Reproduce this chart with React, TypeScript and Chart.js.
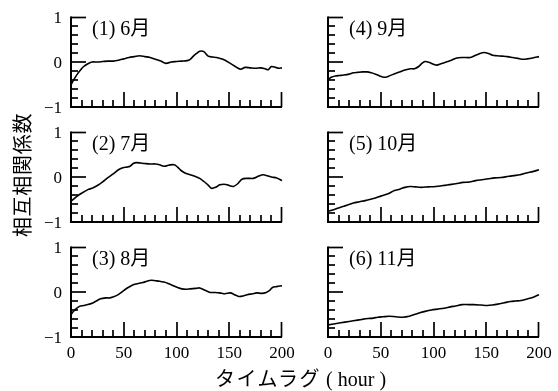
import React, { useEffect, useRef } from "react";
import { Chart, registerables } from "chart.js";

Chart.register(...registerables);

// ---- data (lag in hours, cross-correlation coefficient) ----
const junLag = [0, 2, 4, 6, 9, 12, 16, 20, 25, 30, 35, 40, 45, 50, 55, 60, 65, 70, 75, 80, 85, 90, 95, 100, 105, 110, 113, 116, 119, 122, 126, 130, 134, 138, 144, 151, 157, 161, 165, 170, 175, 180, 184, 187, 190, 194, 197, 200];
const junCorr = [-0.51, -0.42, -0.34, -0.27, -0.18, -0.1, -0.04, 0.0, 0.0, 0.01, 0.02, 0.02, 0.04, 0.07, 0.1, 0.12, 0.14, 0.12, 0.1, 0.06, 0.02, -0.03, 0.0, 0.01, 0.02, 0.03, 0.06, 0.13, 0.19, 0.24, 0.23, 0.13, 0.11, 0.1, 0.06, -0.03, -0.12, -0.16, -0.12, -0.13, -0.14, -0.13, -0.15, -0.17, -0.1, -0.12, -0.14, -0.13];

const julLag = [0, 5, 10, 16, 20, 25, 30, 34, 40, 45, 50, 53, 56, 59, 62, 66, 70, 75, 80, 84, 88, 91, 94, 98, 101, 104, 108, 113, 118, 122, 126, 130, 133, 137, 141, 145, 148, 151, 154, 158, 162, 167, 173, 178, 182, 186, 190, 195, 200];
const julCorr = [-0.54, -0.44, -0.36, -0.28, -0.25, -0.19, -0.11, -0.03, 0.07, 0.16, 0.21, 0.22, 0.24, 0.3, 0.32, 0.31, 0.3, 0.29, 0.29, 0.27, 0.24, 0.25, 0.27, 0.27, 0.22, 0.15, 0.09, 0.05, 0.01, -0.03, -0.1, -0.18, -0.25, -0.23, -0.17, -0.16, -0.17, -0.2, -0.21, -0.15, -0.05, -0.03, -0.03, 0.02, 0.05, 0.03, 0.0, -0.02, -0.08];

const augLag = [0, 2, 4, 8, 12, 16, 20, 24, 28, 33, 37, 43, 47, 51, 55, 59, 64, 68, 72, 76, 80, 84, 88, 92, 97, 101, 105, 109, 113, 118, 122, 127, 132, 137, 141, 146, 151, 155, 159, 163, 167, 172, 176, 181, 185, 188, 191, 195, 200];
const augCorr = [-0.5, -0.44, -0.39, -0.32, -0.3, -0.28, -0.25, -0.2, -0.15, -0.13, -0.13, -0.08, -0.02, 0.05, 0.11, 0.16, 0.19, 0.21, 0.24, 0.26, 0.25, 0.24, 0.22, 0.19, 0.14, 0.1, 0.07, 0.06, 0.07, 0.08, 0.09, 0.04, -0.01, -0.01, -0.02, -0.04, -0.02, -0.06, -0.1, -0.09, -0.06, -0.04, -0.02, -0.03, -0.01, 0.03, 0.1, 0.12, 0.14];

const sepLag = [0, 3, 7, 11, 15, 20, 24, 28, 33, 37, 41, 45, 49, 53, 57, 62, 67, 73, 78, 82, 86, 89, 92, 96, 100, 103, 107, 112, 117, 122, 128, 135, 140, 144, 148, 152, 156, 160, 165, 170, 175, 180, 185, 189, 194, 200];
const sepCorr = [-0.4, -0.34, -0.31, -0.3, -0.29, -0.27, -0.24, -0.23, -0.22, -0.22, -0.24, -0.27, -0.31, -0.34, -0.32, -0.27, -0.23, -0.18, -0.15, -0.15, -0.1, -0.03, 0.01, -0.01, -0.05, -0.07, -0.04, 0.0, 0.04, 0.09, 0.1, 0.1, 0.15, 0.19, 0.21, 0.19, 0.15, 0.14, 0.13, 0.12, 0.1, 0.08, 0.06, 0.07, 0.09, 0.12];

const octLag = [0, 6, 12, 18, 24, 30, 36, 43, 48, 52, 57, 63, 68, 73, 78, 83, 88, 95, 102, 109, 115, 121, 128, 134, 140, 146, 152, 158, 164, 170, 176, 182, 188, 194, 200];
const octCorr = [-0.76, -0.72, -0.67, -0.63, -0.58, -0.55, -0.52, -0.48, -0.44, -0.41, -0.37, -0.3, -0.27, -0.23, -0.21, -0.22, -0.23, -0.22, -0.21, -0.19, -0.17, -0.15, -0.12, -0.11, -0.08, -0.06, -0.04, -0.02, -0.01, 0.01, 0.03, 0.05, 0.09, 0.12, 0.16];

const novLag = [0, 8, 16, 24, 32, 38, 43, 47, 52, 58, 64, 71, 77, 82, 87, 92, 98, 104, 110, 116, 121, 127, 133, 138, 145, 151, 156, 161, 167, 173, 178, 183, 188, 194, 200];
const novCorr = [-0.73, -0.7, -0.67, -0.64, -0.61, -0.59, -0.58, -0.56, -0.55, -0.54, -0.55, -0.56, -0.54, -0.5, -0.46, -0.43, -0.4, -0.38, -0.36, -0.33, -0.31, -0.28, -0.28, -0.28, -0.29, -0.3, -0.29, -0.27, -0.24, -0.21, -0.2, -0.19, -0.16, -0.12, -0.06];

const panelTitles = ["(1) 6月", "(2) 7月", "(3) 8月", "(4) 9月", "(5) 10月", "(6) 11月"];
const xTickLabels = [0, 50, 100, 150, 200];
const yTickValues = [1, 0, -1];
const yTickLabels = ["1", "0", "\u22121"];
const xMin = 0;
const xMax = 200;
const yMin = -1;
const yMax = 1;
const xMinorStep = 10;
const xMajorStep = 50;
const yMinorStep = 0.2;
const yTitle = "相互相関係数";
const xTitleJa = "タイムラグ";
const xTitleUnit = "( hour )";

const SERIF = "'Liberation Serif', 'Times New Roman', 'Noto Sans CJK JP', serif";
const CJK = "'Noto Sans CJK JP', 'Noto Sans CJK SC', sans-serif";

type PanelProps = {
  lag: number[];
  corr: number[];
  title: string;
  left: number;
  top: number;
  showX: boolean;
  showY: boolean;
};

const PAD_L = 31;
const PAD_R = 20;
const PAD_T = 17;
const PLOT_W = 211;
const PLOT_H = 90;
const PAD_B = 30;
const CW = PAD_L + PLOT_W + PAD_R;
const CH = PAD_T + PLOT_H + PAD_B;

function Panel({ lag, corr, title, left, top, showX, showY }: PanelProps) {
  const ref = useRef<HTMLCanvasElement | null>(null);
  useEffect(() => {
    const canvas = ref.current;
    if (!canvas) return;
    const axesPlugin = {
      id: "axesInside",
      afterDatasetsDraw(chart: any) {
        const { ctx, chartArea: a, scales } = chart;
        const x = scales.x;
        const y = scales.y;
        ctx.save();
        ctx.strokeStyle = "#000";
        ctx.fillStyle = "#000";
        // ticks pointing inward
        ctx.lineWidth = 1.7;
        const nx = Math.round((xMax - xMin) / xMinorStep);
        for (let i = 0; i <= nx; i++) {
          const v = xMin + i * xMinorStep;
          const px = Math.round(x.getPixelForValue(v)) + (i === nx ? -0.5 : 0);
          const major = Math.abs(v % xMajorStep) < 1e-9;
          const len = major ? 15 : 7;
          ctx.beginPath();
          ctx.moveTo(px, a.bottom);
          ctx.lineTo(px, a.bottom - len);
          ctx.stroke();
        }
        const ny = Math.round((yMax - yMin) / yMinorStep);
        for (let i = 0; i <= ny; i++) {
          const v = yMin + i * yMinorStep;
          const py = Math.round(y.getPixelForValue(v)) + (i === ny ? 0.5 : 0);
          const major = i % 5 === 0;
          const len = major ? 15 : 7;
          ctx.beginPath();
          ctx.moveTo(a.left, py);
          ctx.lineTo(a.left + len, py);
          ctx.stroke();
        }
        // axis lines
        ctx.lineWidth = 2;
        ctx.beginPath();
        ctx.moveTo(a.left, a.top - 0.5);
        ctx.lineTo(a.left, a.bottom + 1);
        ctx.moveTo(a.left - 1, a.bottom);
        ctx.lineTo(a.right, a.bottom);
        ctx.stroke();
        // title
        ctx.font = `20px ${SERIF}`;
        ctx.textAlign = "left";
        ctx.textBaseline = "alphabetic";
        ctx.fillText(title, a.left + 21, a.top + 18);
        // tick labels
        ctx.font = `17px ${SERIF}`;
        if (showX) {
          ctx.textAlign = "center";
          xTickLabels.forEach((v) => {
            ctx.fillText(String(v), x.getPixelForValue(v), a.bottom + 21);
          });
        }
        if (showY) {
          ctx.textAlign = "right";
          yTickValues.forEach((v, i) => {
            ctx.fillText(yTickLabels[i], a.left - 9, y.getPixelForValue(v) + 6);
          });
        }
        ctx.restore();
      },
    };
    const chart = new Chart(canvas, {
      type: "line",
      data: {
        datasets: [
          {
            data: lag.map((t, i) => ({ x: t, y: corr[i] })),
            borderColor: "#000",
            borderWidth: 1.6,
            pointRadius: 0,
            tension: 0.3,
            fill: false,
            clip: false as any,
          },
        ],
      },
      options: {
        responsive: false,
        animation: false,
        devicePixelRatio: 1,
        layout: { padding: { left: PAD_L, right: PAD_R, top: PAD_T, bottom: PAD_B } },
        plugins: { legend: { display: false }, tooltip: { enabled: false } },
        scales: {
          x: { type: "linear", min: xMin, max: xMax, display: false },
          y: { type: "linear", min: yMin, max: yMax, display: false },
        },
      },
      plugins: [axesPlugin],
    });
    return () => chart.destroy();
  }, [lag, corr, title, showX, showY]);
  return (
    <canvas
      ref={ref}
      width={CW}
      height={CH}
      style={{ position: "absolute", left, top, width: CW, height: CH }}
    />
  );
}

export default function App() {
  const series = [
    { lag: junLag, corr: junCorr },
    { lag: julLag, corr: julCorr },
    { lag: augLag, corr: augCorr },
    { lag: sepLag, corr: sepCorr },
    { lag: octLag, corr: octCorr },
    { lag: novLag, corr: novCorr },
  ];
  const colLeft = [71 - PAD_L, 328 - PAD_L];
  const rowTop = [0, 115, 230];
  return (
    <div style={{ position: "absolute", left: 0, top: 0, width: 558, height: 391, background: "#fff", overflow: "hidden" }}>
      {series.map((s, i) => {
        const col = Math.floor(i / 3);
        const row = i % 3;
        return (
          <Panel
            key={i}
            lag={s.lag}
            corr={s.corr}
            title={panelTitles[i]}
            left={colLeft[col]}
            top={rowTop[row]}
            showX={row === 2}
            showY={col === 0}
          />
        );
      })}
      <div
        style={{
          position: "absolute",
          left: 22 - 80,
          top: 175 - 10,
          width: 160,
          height: 20,
          lineHeight: "20px",
          textAlign: "center",
          fontFamily: CJK,
          fontSize: 20,
          letterSpacing: "0.7px",
          whiteSpace: "nowrap",
          transform: "rotate(-90deg)",
          transformOrigin: "50% 50%",
          color: "#000",
        }}
      >
        {yTitle}
      </div>
      <div
        style={{
          position: "absolute",
          left: 215,
          top: 367,
          height: 22,
          lineHeight: "22px",
          whiteSpace: "nowrap",
          color: "#000",
        }}
      >
        <span style={{ fontFamily: CJK, fontSize: 20, letterSpacing: "1.5px" }}>{xTitleJa}</span>
        <span style={{ fontFamily: SERIF, fontSize: 20 }}>{" " + xTitleUnit}</span>
      </div>
    </div>
  );
}
